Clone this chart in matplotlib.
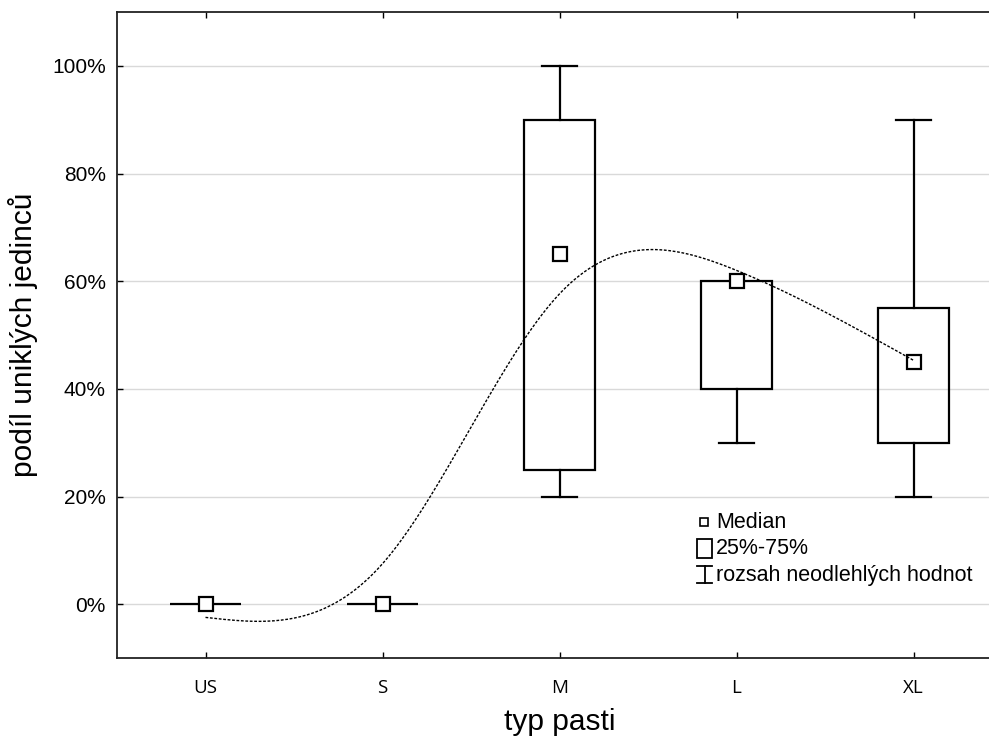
import numpy as np
import matplotlib
matplotlib.use("Agg")
import matplotlib.pyplot as plt
from matplotlib.patches import Rectangle

categories = ["US", "S", "M", "L", "XL"]
medians = [0, 0, 65, 60, 45]
q1 = [0, 0, 25, 40, 30]
q3 = [0, 0, 90, 60, 55]
whisk_lo = [0, 0, 20, 30, 20]
whisk_hi = [0, 0, 100, 60, 90]
yticks = [0, 20, 40, 60, 80, 100]
ytick_labels = ["0%", "20%", "40%", "60%", "80%", "100%"]
smooth_lambda = 0.03


def smoothing_spline(y, lam, xs):
    y = np.asarray(y, float)
    n = len(y)
    h = 1.0
    Q = np.zeros((n, n - 2))
    R = np.zeros((n - 2, n - 2))
    for j in range(n - 2):
        Q[j, j] = 1 / h
        Q[j + 1, j] = -2 / h
        Q[j + 2, j] = 1 / h
        R[j, j] = 2 * h / 3
        if j + 1 < n - 2:
            R[j, j + 1] = R[j + 1, j] = h / 6
    K = Q @ np.linalg.solve(R, Q.T)
    g = np.linalg.solve(np.eye(n) + lam * K, y)
    gam = np.zeros(n)
    gam[1:-1] = np.linalg.solve(R, Q.T @ g)
    out = []
    for x in xs:
        i = min(int(np.floor(x)), n - 2)
        a = x - i
        b = (i + 1) - x
        v = a * g[i + 1] + b * g[i] - a * b / 6 * ((1 + a) * gam[i + 1] + (1 + b) * gam[i])
        out.append(v)
    return np.array(out)


plt.rcParams["font.family"] = ["Liberation Sans", "DejaVu Sans"]
fig = plt.figure(figsize=(9.89, 7.42), dpi=100)
ax = fig.add_axes([117 / 989, 1 - 658 / 742, (1002 - 117) / 989, (658 - 12) / 742])

x = np.arange(len(categories))
ax.set_xlim(-0.5, 4.5)
ax.set_ylim(-10, 110)

for yt in yticks:
    ax.axhline(yt, color="#d9d9d9", lw=1.0, zorder=0)

bw = 0.4
cw = 0.2
lw = 1.6
for i in x:
    lo, hi = q1[i], q3[i]
    ax.add_patch(Rectangle((i - bw / 2, lo), bw, hi - lo, fill=False, ec="black", lw=lw, zorder=3))
    if whisk_hi[i] > hi:
        ax.plot([i, i], [hi, whisk_hi[i]], color="black", lw=lw, zorder=3)
        ax.plot([i - cw / 2, i + cw / 2], [whisk_hi[i]] * 2, color="black", lw=lw, zorder=3)
    if whisk_lo[i] < lo:
        ax.plot([i, i], [whisk_lo[i], lo], color="black", lw=lw, zorder=3)
        ax.plot([i - cw / 2, i + cw / 2], [whisk_lo[i]] * 2, color="black", lw=lw, zorder=3)

ax.plot(x, medians, ls="none", marker="s", ms=10, mfc="white", mec="black", mew=1.6, zorder=4)

xs = np.linspace(0, 4, 300)
ys = smoothing_spline(medians, smooth_lambda, xs)
ax.plot(xs, ys, color="black", lw=1.0, ls=(0, (2, 1.2)), zorder=5)

ax.set_yticks(yticks)
ax.set_yticklabels(ytick_labels, fontsize=15)
ax.set_xticks(x)
ax.set_xticklabels(categories, fontsize=13.5, family=["Open Sans", "DejaVu Sans"])
ax.tick_params(axis="both", direction="in", length=4, width=1, top=True, right=False, pad=8)
ax.tick_params(axis="x", pad=15)
for s in ["left", "bottom", "top", "right"]:
    ax.spines[s].set_linewidth(1.3)
    ax.spines[s].set_color("#222222")

ax.set_ylabel("podíl uniklých jedinců", fontsize=21.5, labelpad=10)
ax.set_xlabel("typ pasti", fontsize=21.5, labelpad=8)

# custom legend
def px2data(px, py):
    return ax.transData.inverted().transform(fig.transFigure.transform((px / 989, 1 - py / 742)))

fs = 15.5
tx, ty = px2data(716, 522)
ax.text(tx, ty, "Median", fontsize=fs, va="center", ha="left")
mx, my = px2data(704, 522)
ax.plot([mx], [my], marker="s", ms=6, mfc="white", mec="black", mew=1.2)
tx, ty = px2data(716, 549)
ax.text(tx, ty, "25%-75%", fontsize=fs, va="center", ha="left")
(x0, y0), (x1, y1) = px2data(697, 558), px2data(712, 539)
ax.add_patch(Rectangle((x0, y0), x1 - x0, y1 - y0, fill=False, ec="black", lw=1.3))
tx, ty = px2data(716, 575)
ax.text(tx, ty, "rozsah neodlehlých hodnot", fontsize=fs, va="center", ha="left")
(a0, b0), (a1, b1) = px2data(697, 566), px2data(712, 583)
am = (a0 + a1) / 2
ax.plot([a0, a1], [b0, b0], color="black", lw=1.3)
ax.plot([a0, a1], [b1, b1], color="black", lw=1.3)
ax.plot([am, am], [b0, b1], color="black", lw=1.3)

fig.savefig("out.png", dpi=100)
